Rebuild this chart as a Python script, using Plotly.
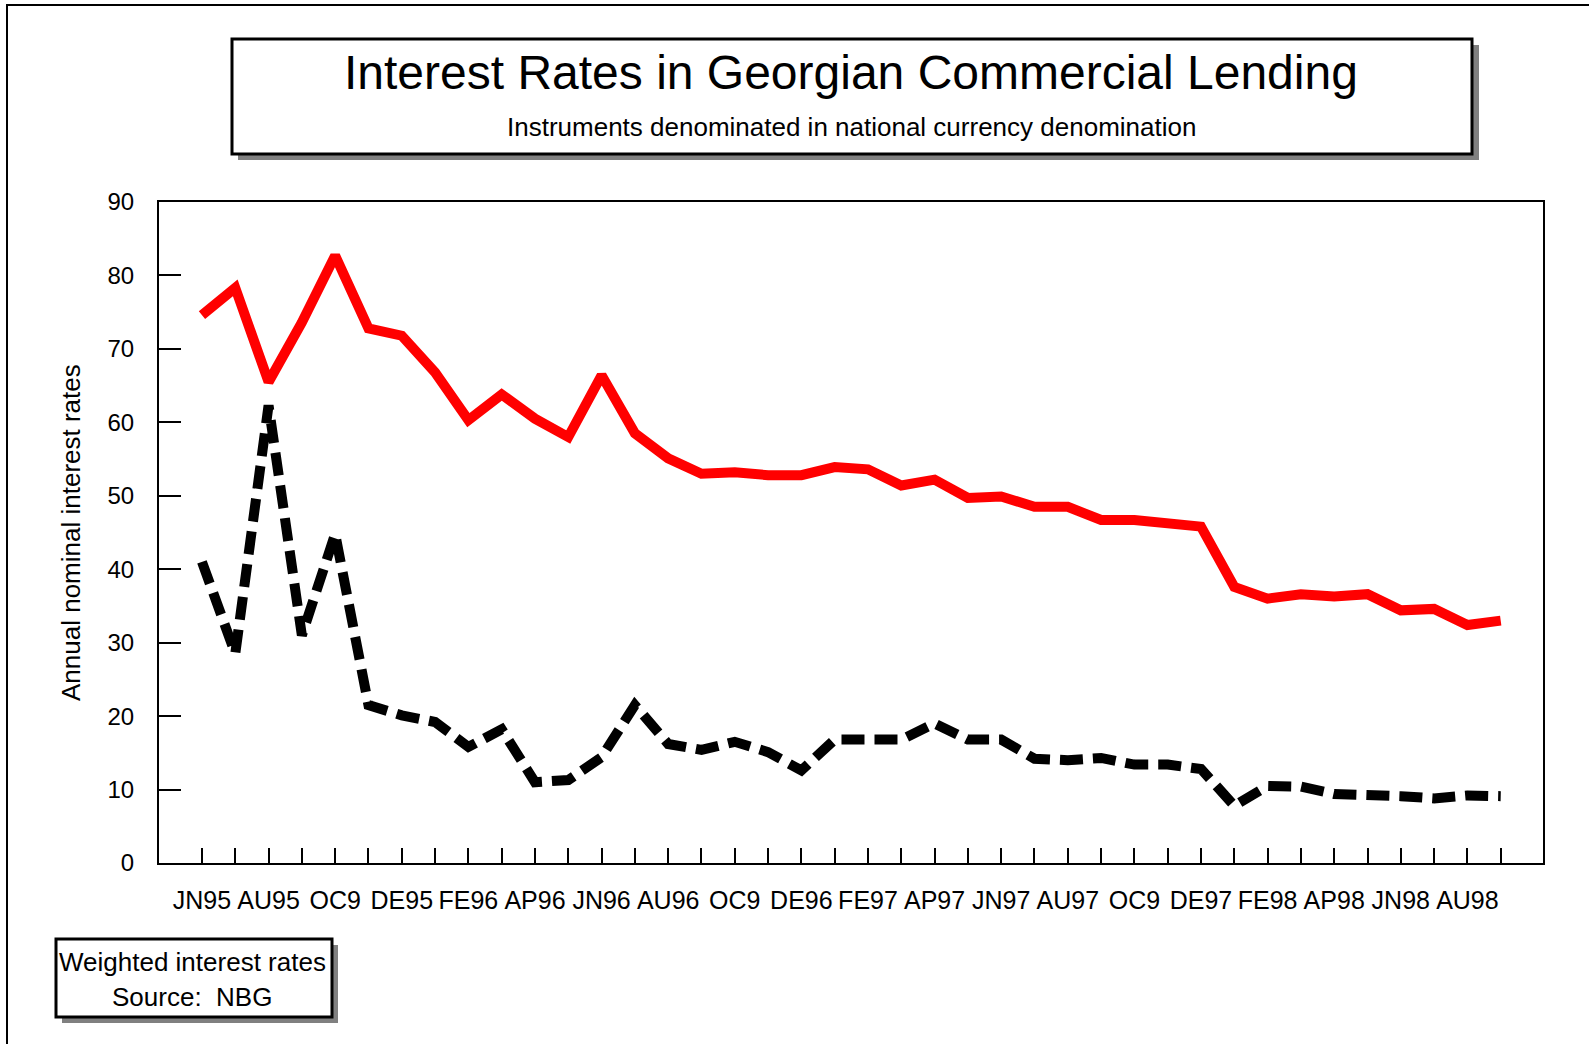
import plotly.graph_objects as go

# ---------------- data ----------------
month_index = list(range(40))  # June 1995 ... September 1998
tick_labels = ["JN95", "AU95", "OC9", "DE95", "FE96", "AP96", "JN96", "AU96", "OC9", "DE96",
               "FE97", "AP97", "JN97", "AU97", "OC9", "DE97", "FE98", "AP98", "JN98", "AU98"]

lending_rate = [74.6, 78.3, 65.5, 73.6, 82.7, 72.8, 71.8, 66.8, 60.3, 63.8,
                60.5, 58.0, 66.4, 58.5, 55.1, 53.0, 53.2, 52.8, 52.8, 53.9,
                53.6, 51.4, 52.2, 49.7, 49.9, 48.5, 48.5, 46.7, 46.7, 46.2,
                45.8, 37.6, 36.0, 36.6, 36.3, 36.6, 34.4, 34.6, 32.4, 33.0]
deposit_rate = [41.0, 28.5, 62.3, 31.0, 44.8, 21.5, 20.1, 19.2, 15.8, 18.2,
                11.0, 11.3, 14.4, 21.5, 16.2, 15.4, 16.5, 15.1, 12.6, 16.8,
                16.8, 16.8, 19.0, 16.8, 16.8, 14.2, 14.0, 14.3, 13.4, 13.4,
                12.8, 7.8, 10.5, 10.4, 9.4, 9.4, 9.1, 8.8, 9.2, 9.1]

y_ticks = list(range(0, 100, 10))

# every month gets a tick, every second month a label
tick_text = [tick_labels[i // 2] if i % 2 == 0 else "" for i in month_index]

# ---------------- layout geometry (pixels) ----------------
W, H = 1589, 1044
L, R, T, B = 159, 1543, 202, 863
FONT = "Liberation Sans, Arial, Helvetica, sans-serif"


def px(x):
    return (x - L) / (R - L)


def py(y):
    return (B - y) / (B - T)


fig = go.Figure()
fig.add_trace(go.Scatter(x=month_index, y=lending_rate, mode="lines",
                         line=dict(color="#ff0000", width=10), showlegend=False))
fig.add_trace(go.Scatter(x=month_index, y=deposit_rate, mode="lines",
                         line=dict(color="#000000", width=10, dash="23px,10px"),
                         showlegend=False))

shapes = [
    # outer frame
    dict(type="rect", xref="paper", yref="paper", x0=px(7), x1=px(1620), y0=py(5), y1=py(1080),
         line=dict(color="black", width=2), fillcolor="rgba(0,0,0,0)", layer="above"),
    # title box shadow + box
    dict(type="rect", xref="paper", yref="paper", x0=px(238), x1=px(1479), y0=py(45), y1=py(160),
         line=dict(width=0), fillcolor="#808080", layer="above"),
    dict(type="rect", xref="paper", yref="paper", x0=px(232), x1=px(1472), y0=py(39), y1=py(154),
         line=dict(color="black", width=3), fillcolor="white", layer="above"),
    # note box shadow + box
    dict(type="rect", xref="paper", yref="paper", x0=px(62), x1=px(338), y0=py(945), y1=py(1023),
         line=dict(width=0), fillcolor="#808080", layer="above"),
    dict(type="rect", xref="paper", yref="paper", x0=px(56), x1=px(332), y0=py(939), y1=py(1017),
         line=dict(color="black", width=3), fillcolor="white", layer="above"),
]

annotations = [
    dict(text="Interest Rates in Georgian Commercial Lending", xref="paper", yref="paper",
         x=px(851), y=py(72), xanchor="center", yanchor="middle", showarrow=False,
         font=dict(family=FONT, size=48, color="black")),
    dict(text="Instruments denominated in national currency denomination", xref="paper", yref="paper",
         x=px(851), y=py(127), xanchor="center", yanchor="middle", showarrow=False,
         font=dict(family=FONT, size=26, color="black")),
    dict(text="Annual nominal interest rates", xref="paper", yref="paper",
         x=px(71), y=py(533), xanchor="center", yanchor="middle", showarrow=False, textangle=-90,
         font=dict(family=FONT, size=26, color="black")),
    dict(text="Weighted interest rates", xref="paper", yref="paper",
         x=px(192), y=py(962), xanchor="center", yanchor="middle", showarrow=False,
         font=dict(family=FONT, size=26, color="black")),
    dict(text="Source:  NBG", xref="paper", yref="paper",
         x=px(192), y=py(997), xanchor="center", yanchor="middle", showarrow=False,
         font=dict(family=FONT, size=26, color="black")),
]

fig.update_layout(
    width=W, height=H,
    margin=dict(l=L, r=W - R, t=T, b=H - B, pad=0),
    paper_bgcolor="white", plot_bgcolor="white",
    shapes=shapes, annotations=annotations,
    xaxis=dict(range=[-1.29, 40.27], tickmode="array", tickvals=month_index, ticktext=tick_text,
               ticks="inside", ticklen=15, tickwidth=2, tickcolor="black",
               showline=True, linecolor="black", linewidth=2, mirror=True,
               showgrid=False, zeroline=False, ticklabelstandoff=14,
               tickfont=dict(family=FONT, size=25, color="black")),
    yaxis=dict(range=[0, 90], tickmode="array", tickvals=y_ticks,
               ticks="inside", ticklen=22, tickwidth=2, tickcolor="black",
               showline=True, linecolor="black", linewidth=2, mirror=True,
               showgrid=False, zeroline=False, ticklabelstandoff=18,
               tickfont=dict(family=FONT, size=24, color="black")),
)

fig.write_html("out.html", config={"displayModeBar": False},
               post_script="document.body.style.margin='0';")
